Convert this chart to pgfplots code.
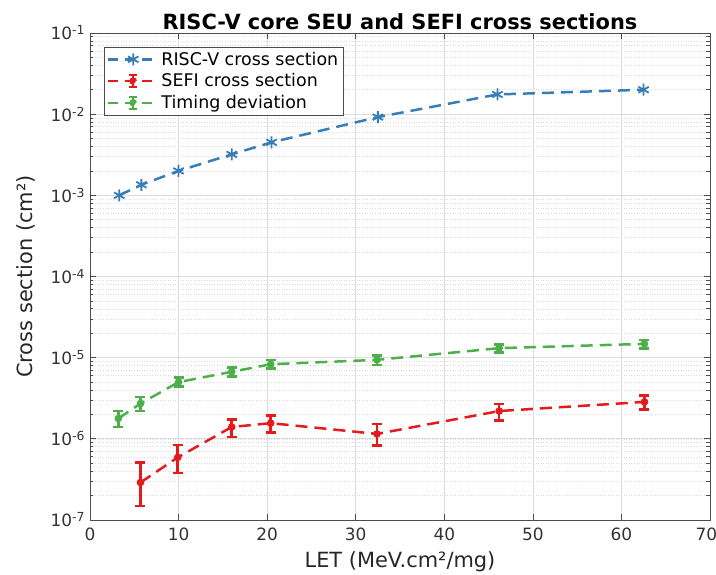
\documentclass[border=0pt]{standalone}
\usepackage{pgfplots}
\pgfplotsset{compat=1.18}
\usepackage{fontspec}
\setmainfont{DejaVu Sans}
\definecolor{cblue}{HTML}{377EB8}
\definecolor{cred}{HTML}{E41A1C}
\definecolor{cgreen}{HTML}{4DAF4A}
\definecolor{gridc}{HTML}{DCDCDC}
\newcommand{\sups}[1]{\raisebox{0.55ex}{\fontsize{12.5}{13}\selectfont #1}}
\newcommand{\errlegend}[1]{%
  \draw[#1, line width=2.5pt, dash pattern=on 10bp off 7bp] (0bp,0bp) -- (50bp,0bp);
  \draw[#1, line width=2.2pt] (25bp,-6bp) -- (25bp,6bp) (21bp,-6bp) -- (29bp,-6bp) (21bp,6bp) -- (29bp,6bp);
  \fill[#1] (25bp,0bp) circle (2.5bp);}
\newcommand{\starlegend}{%
  \draw[cblue, line width=2.5pt, dash pattern=on 10bp off 7bp] (0bp,0bp) -- (50bp,0bp);
  \draw[cblue, line width=1.8pt] plot[mark=asterisk, mark size=6bp] coordinates {(25bp,0bp)};}
\begin{document}
\begin{tikzpicture}[x=1bp,y=1bp]
\useasboundingbox (-90bp,-55bp) rectangle (626bp,520bp);
\begin{axis}[
  at={(0,0)}, anchor=south west,
  scale only axis, width=620bp, height=487bp,
  ymode=log, xmin=0, xmax=70, ymin=1e-7, ymax=1e-1,
  xtick={0,10,...,70},
  xticklabels={0,10,20,30,40,50,60,\hspace*{-7bp}70},
  ytick={1e-7,1e-6,1e-5,1e-4,1e-3,1e-2,1e-1},
  yticklabels={10\sups{-7},10\sups{-6},10\sups{-5},10\sups{-4},10\sups{-3},10\sups{-2},10\sups{-1}},
  /pgf/number format/assume math mode=true,
  tick label style={font=\fontsize{17}{19}\selectfont, text=black!80},
  xticklabel style={yshift=-4bp},
  yticklabel style={xshift=-2bp},
  xmajorgrids, ymajorgrids, yminorgrids,
  major grid style={draw=gridc, line width=0.7pt},
  minor grid style={draw=gridc, line width=0.6pt, dotted},
  axis line style={draw=black!70, line width=0.7pt},
  tick style={draw=black!70, line width=0.7pt},
  major tick length=6bp, minor tick length=3.5bp,
  tick align=inside,
  title={\bfseries RISC-V core SEU and SEFI cross sections},
  title style={font=\fontsize{21}{23}\selectfont, yshift=-6bp},
  xlabel={LET (MeV.cm²/mg)},
  ylabel={Cross section (cm²)},
  label style={font=\fontsize{21}{23}\selectfont, text=black!85},
  xlabel style={yshift=-4bp},
  ylabel style={yshift=8bp},
  legend style={font=\fontsize{17.5}{19}\selectfont, draw=black!70, line width=0.7pt, at={(0.022,0.972)}, anchor=north west, inner xsep=3bp, inner ysep=3bp, row sep=3bp},
  legend cell align=left,
]
\addplot[cblue, line width=2.5pt, dash pattern=on 12bp off 7bp, mark=asterisk, mark size=6bp, mark options={solid, line width=1.8pt},
  legend image code/.code={\starlegend}]
coordinates {(3.3,1.0e-3) (5.8,1.35e-3) (10,2.0e-3) (16,3.2e-3) (20.5,4.5e-3) (32.5,9.2e-3) (46,1.75e-2) (62.5,2.0e-2)};
\addlegendentry{RISC-V cross section}

\addplot[cred, line width=2.5pt, dash pattern=on 12bp off 7bp, mark=*, mark size=2.5bp, mark options={solid},
  legend image code/.code={\errlegend{cred}},
  error bars/.cd, y dir=both, y explicit,
  error bar style={solid, line width=2.5pt}, error mark options={rotate=90, mark size=5bp, line width=2.5pt, solid}]
coordinates {
(5.7,2.9e-7) += (0,2.2e-7) -= (0,1.42e-7)
(9.9,5.9e-7) += (0,2.5e-7) -= (0,2.1e-7)
(16,1.40e-6) += (0,0.34e-6) -= (0,0.35e-6)
(20.4,1.56e-6) += (0,0.39e-6) -= (0,0.37e-6)
(32.4,1.15e-6) += (0,0.38e-6) -= (0,0.32e-6)
(46.2,2.2e-6) += (0,0.5e-6) -= (0,0.51e-6)
(62.6,2.85e-6) += (0,0.59e-6) -= (0,0.56e-6)
};
\addlegendentry{SEFI cross section}

\addplot[cgreen, line width=2.5pt, dash pattern=on 12bp off 7bp, mark=*, mark size=2.5bp, mark options={solid},
  legend image code/.code={\errlegend{cgreen}},
  error bars/.cd, y dir=both, y explicit,
  error bar style={solid, line width=2.5pt}, error mark options={rotate=90, mark size=5bp, line width=2.5pt, solid}]
coordinates {
(3.2,1.78e-6) += (0,0.42e-6) -= (0,0.38e-6)
(5.7,2.72e-6) += (0,0.58e-6) -= (0,0.52e-6)
(10,5.0e-6) += (0,0.7e-6) -= (0,0.6e-6)
(16,6.7e-6) += (0,0.9e-6) -= (0,0.8e-6)
(20.4,8.3e-6) += (0,1.1e-6) -= (0,0.9e-6)
(32.4,9.4e-6) += (0,1.2e-6) -= (0,1.3e-6)
(46.2,1.31e-5) += (0,0.15e-5) -= (0,0.15e-5)
(62.6,1.48e-5) += (0,0.17e-5) -= (0,0.18e-5)
};
\addlegendentry{Timing deviation}
\end{axis}
\end{tikzpicture}
\end{document}
